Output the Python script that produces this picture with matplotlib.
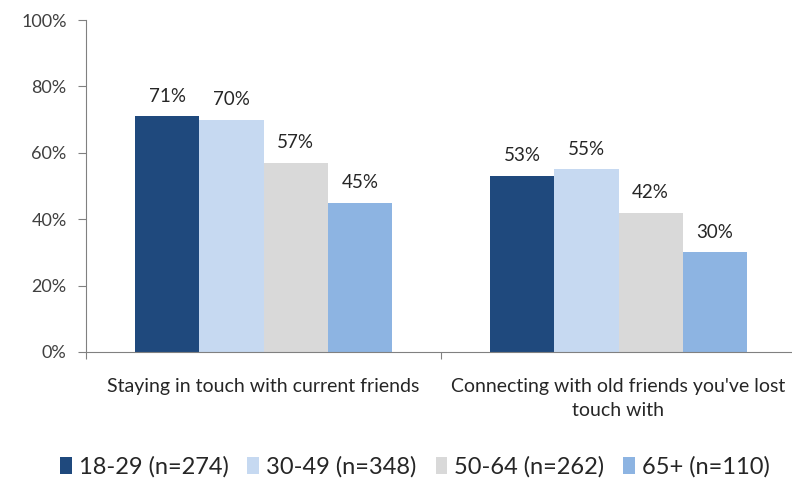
import matplotlib.pyplot as plt
import numpy as np

plt.rcParams['font.family'] = ['Lato', 'DejaVu Sans']

categories = ['Staying in touch with current friends',
              "Connecting with old friends you've lost\ntouch with"]
groups = ['18-29 (n=274)', '30-49 (n=348)', '50-64 (n=262)', '65+ (n=110)']
values = [
    [71, 53],
    [70, 55],
    [57, 42],
    [45, 30],
]
colors = ['#1F497D', '#C6D9F1', '#D9D9D9', '#8DB4E2']

fig = plt.figure(figsize=(7.92, 4.82), dpi=100)
ax = fig.add_axes([86 / 792, 130 / 482, 710 / 792, 332 / 482])

x = np.arange(len(categories))
bw = 0.181
for i, (g, vals, c) in enumerate(zip(groups, values, colors)):
    pos = x + (i - 1.5) * bw
    ax.bar(pos, vals, width=bw, color=c, label=g, zorder=2)
    for p, v in zip(pos, vals):
        ax.text(p, v + 3.5, f'{v}%', ha='center', va='bottom',
                fontsize=13.5, color='#262626')

ax.set_xlim(-0.5, 1.5)
ax.set_ylim(0, 100)
ax.set_yticks(range(0, 101, 20))
ax.set_yticklabels([f'{t}%' for t in range(0, 101, 20)])
ax.tick_params(axis='y', labelsize=13, labelcolor='#404040', length=6,
               color='#808080', pad=8)

# group boundaries get the small outward ticks, group centres carry the labels
ax.set_xticks([-0.5, 0.5, 1.5])
ax.set_xticklabels([])
ax.tick_params(axis='x', length=5, color='#808080', direction='out')
ax.set_xticks(x, minor=True)
ax.set_xticklabels(categories, minor=True, linespacing=1.45)
ax.tick_params(axis='x', which='minor', length=0, labelsize=14,
               labelcolor='#262626', pad=19)

for s in ['top', 'right']:
    ax.spines[s].set_visible(False)
for s in ['left', 'bottom']:
    ax.spines[s].set_color('#808080')

handles, labels = ax.get_legend_handles_labels()
fig.legend(handles, labels, loc='center', bbox_to_anchor=(415 / 792, 1 - 467 / 482),
           ncol=4, frameon=False, fontsize=17, handlelength=0.5, handleheight=0.7,
           handletextpad=0.3, columnspacing=0.8, labelcolor='#262626',
           borderpad=0, borderaxespad=0)

fig.savefig('out.png', dpi=100)
